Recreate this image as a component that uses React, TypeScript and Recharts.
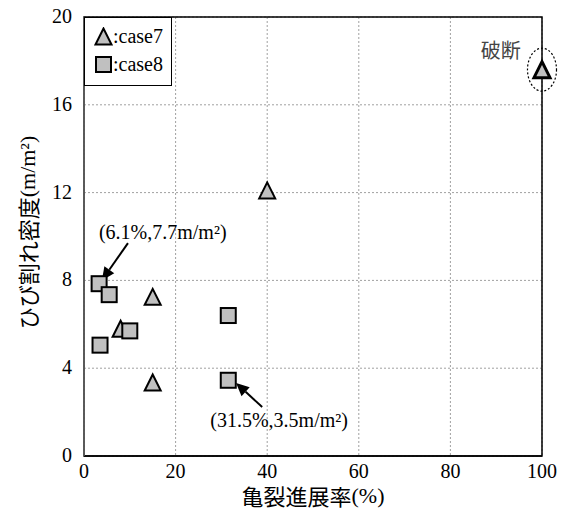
import {
  ScatterChart, Scatter, XAxis, YAxis, CartesianGrid, ReferenceArea,
  ReferenceLine, ReferenceDot,
} from 'recharts';

const xTicks = [0, 20, 40, 60, 80, 100];
const yTicks = [0, 4, 8, 12, 16, 20];

// case7 (triangles)
const case7X = [40, 15, 8, 15];
const case7Y = [12.1, 7.25, 5.8, 3.35];
// case7 fracture point (破断)
const breakX = [100];
const breakY = [17.6];
// case8 (squares)
const case8X = [3.3, 5.5, 31.5, 10, 3.5, 31.5];
const case8Y = [7.85, 7.35, 6.4, 5.7, 5.05, 3.45];

// annotations
const noteLabels = ['(6.1%,7.7m/m²)', '(31.5%,3.5m/m²)'];
const noteX = [17.2, 42.6];
const noteY = [10.2, 1.64];
const arrowFromX = [9.6, 38.9];
const arrowFromY = [9.7, 2.23];
const arrowToX = [3.9, 33.2];
const arrowToY = [8.0, 3.33];

const toPoints = (xs: number[], ys: number[]) => xs.map((x, i) => ({ x, y: ys[i] }));

const serif = "'Liberation Serif', serif";
const cjk = "'Noto Sans CJK JP', sans-serif";
const FILL = '#c0c0c0';

function Triangle({ cx, cy, sw = 2 }: any) {
  const h = 8;
  return (
    <polygon
      points={`${cx},${cy - h} ${cx - h},${cy + h} ${cx + h},${cy + h}`}
      fill={FILL} stroke="#000" strokeWidth={sw} strokeLinejoin="miter"
    />
  );
}

function BreakShape({ cx, cy }: any) {
  return (
    <g>
      <ellipse cx={cx} cy={cy} rx={14.5} ry={21.5} fill="none" stroke="#000" strokeWidth={1.2} strokeDasharray="2 2" />
      <Triangle cx={cx} cy={cy} sw={3} />
    </g>
  );
}

function Square({ cx, cy }: any) {
  const s = 7.5;
  return <rect x={cx - s} y={cy - s} width={2 * s} height={2 * s} fill={FILL} stroke="#000" strokeWidth={2} />;
}

function Arrow({ x1, y1, x2, y2 }: any) {
  const dx = x2 - x1, dy = y2 - y1;
  const len = Math.sqrt(dx * dx + dy * dy);
  const ux = dx / len, uy = dy / len;
  const hl = 13, hw = 6;
  const bx = x2 - ux * hl, by = y2 - uy * hl;
  return (
    <g>
      <line x1={x1} y1={y1} x2={bx} y2={by} stroke="#000" strokeWidth={2} />
      <polygon
        points={`${x2},${y2} ${bx - uy * hw},${by + ux * hw} ${bx + uy * hw},${by - ux * hw}`}
        fill="#000"
      />
    </g>
  );
}

function XTick({ x, y, payload }: any) {
  return (
    <text x={x} y={y} dy={15} textAnchor="middle" fontSize={20} fontFamily={serif} fill="#000">
      {payload.value}
    </text>
  );
}

function YTick({ x, y, payload }: any) {
  return (
    <text x={x} y={y} dy={6} textAnchor="end" fontSize={20} fontFamily={serif} fill="#000">
      {payload.value}
    </text>
  );
}

function LegendBox() {
  return (
    <div style={{
      position: 'absolute', left: 84, top: 17,
      width: 86, height: 67, border: '1.5px solid #000', background: '#fff',
      fontFamily: 'Liberation Serif', fontSize: 20, color: '#000', boxSizing: 'content-box',
    }}>
      <div style={{ display: 'flex', alignItems: 'center', height: 20, marginTop: 8, marginLeft: 9 }}>
        <svg width={19} height={19}><Triangle cx={9.5} cy={9.5} /></svg>
        <span style={{ lineHeight: '20px', fontFamily: 'Liberation Serif' }}>:case7</span>
      </div>
      <div style={{ display: 'flex', alignItems: 'center', height: 20, marginTop: 8, marginLeft: 9 }}>
        <svg width={19} height={19}><Square cx={9.5} cy={9.5} /></svg>
        <span style={{ lineHeight: '20px', fontFamily: 'Liberation Serif' }}>:case8</span>
      </div>
    </div>
  );
}

export default function App() {
  return (
    <div style={{ position: 'absolute', left: 0, top: 0, width: 571, height: 513, background: '#fff' }}>
      <ScatterChart width={571} height={513} margin={{ top: 17, right: 29, bottom: 0, left: 0 }}>
        <CartesianGrid stroke="#a0a0a0" strokeDasharray="2 2" />
        <XAxis
          type="number" dataKey="x" domain={[0, 100]} ticks={xTicks} height={57}
          tick={<XTick />}
          tickLine={false} tickSize={3} tickMargin={4}
          axisLine={{ stroke: '#000', strokeWidth: 1.5 }}
          label={{
            content: ({ viewBox }: any) => (
              <text x={viewBox.x + viewBox.width / 2} y={viewBox.y + 39} textAnchor="middle"
                dominantBaseline="central" fontSize={22} fill="#000">
                <tspan fontFamily={cjk}>亀裂進展率</tspan>
                <tspan fontFamily={serif}>(%)</tspan>
              </text>
            ),
          }}
        />
        <YAxis
          type="number" dataKey="y" domain={[0, 20]} ticks={yTicks} width={84}
          tick={<YTick />}
          tickLine={false} tickSize={6} tickMargin={6}
          axisLine={{ stroke: '#666', strokeWidth: 1.5 }}
          label={{
            content: ({ viewBox }: any) => {
              const cx = 27;
              const cy = viewBox.y + viewBox.height / 2 - 4;
              return (
                <text x={cx} y={cy} textAnchor="middle" dominantBaseline="central"
                  transform={`rotate(-90, ${cx}, ${cy})`} fontSize={22} fill="#000">
                  <tspan fontFamily={cjk}>ひび割れ密度</tspan>
                  <tspan fontFamily={serif}>(m/m²)</tspan>
                </text>
              );
            },
          }}
        />
        <ReferenceArea x1={0} x2={100} y1={0} y2={20} fill="none" stroke="#000" strokeWidth={1.5} />
        {noteLabels.map((_, i) => (
          <ReferenceLine
            key={'arrow' + i}
            segment={[{ x: arrowFromX[i], y: arrowFromY[i] }, { x: arrowToX[i], y: arrowToY[i] }]}
            shape={(p: any) => <Arrow {...p} />}
          />
        ))}
        <Scatter name="case7" data={toPoints(case7X, case7Y)} shape={(p: any) => <Triangle {...p} />} isAnimationActive={false} />
        <Scatter name="case8" data={toPoints(case8X, case8Y)} shape={(p: any) => <Square {...p} />} isAnimationActive={false} />
        <Scatter name="破断" data={toPoints(breakX, breakY)} shape={(p: any) => <BreakShape {...p} />} isAnimationActive={false} />
        {noteLabels.map((t, i) => (
          <ReferenceDot
            key={'note' + i} x={noteX[i]} y={noteY[i]} r={0}
            shape={(p: any) => (
              <text x={p.cx} y={p.cy} textAnchor="middle" dominantBaseline="central"
                fontSize={20} fontFamily={serif} fill="#000">{t}</text>
            )}
          />
        ))}
        <ReferenceDot
          x={91} y={18.5} r={0}
          shape={(p: any) => (
            <text x={p.cx} y={p.cy} textAnchor="middle" dominantBaseline="central"
              fontSize={20} fontFamily={cjk} fill="#444">破断</text>
          )}
        />
      </ScatterChart>
      <LegendBox />
    </div>
  );
}
